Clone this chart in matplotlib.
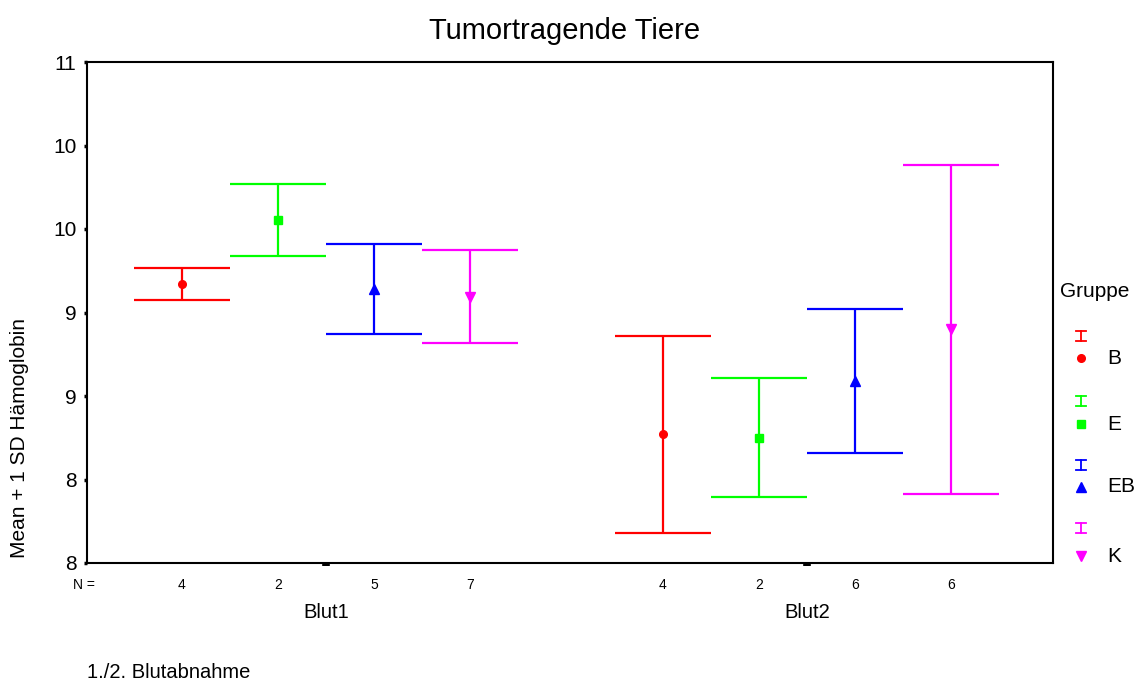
import matplotlib
matplotlib.use("Agg")
import matplotlib.pyplot as plt
import matplotlib.transforms as mtransforms

plt.rcParams['font.family'] = ['Liberation Sans', 'DejaVu Sans']

# ---- data ----
categories = ["Blut1", "Blut2"]
groups = ["B", "E", "EB", "K"]
colors = ["#FF0000", "#00FF00", "#0000FF", "#FF00FF"]
markers = ["o", "s", "^", "v"]
means_blut1 = [9.67, 10.055, 9.64, 9.595]
sd_blut1 = [0.095, 0.215, 0.27, 0.28]
means_blut2 = [8.77, 8.75, 9.09, 9.40]
sd_blut2 = [0.59, 0.355, 0.43, 0.985]
n_blut1 = [4, 2, 5, 7]
n_blut2 = [4, 2, 6, 6]
yticks = [8.0, 8.5, 9.0, 9.5, 10.0, 10.5, 11.0]
ytick_labels = ["8", "8", "9", "9", "10", "10", "11"]

W, H = 1143, 684
fig = plt.figure(figsize=(W / 100, H / 100), dpi=100)
ax = fig.add_axes([87 / W, 1 - 563 / H, (1053 - 87) / W, (563 - 62) / H])

def px(x, y):
    return x / W, 1 - y / H

offsets = [-0.3, -0.1, 0.1, 0.3]
means_all = [means_blut1, means_blut2]
sd_all = [sd_blut1, sd_blut2]
n_all = [n_blut1, n_blut2]

trans_n = mtransforms.blended_transform_factory(ax.transData, ax.transAxes)
for ci, cat in enumerate(categories):
    for gi, g in enumerate(groups):
        x = ci + offsets[gi]
        m = means_all[ci][gi]
        s = sd_all[ci][gi]
        ax.errorbar([x], [m], yerr=[s], color=colors[gi], capsize=34.5,
                    elinewidth=1.6, capthick=1.6, fmt='none', zorder=3)
        ax.plot([x], [m], marker=markers[gi], color=colors[gi],
                markersize=7 if markers[gi] in ("^", "v") else 5.5,
                linestyle='none', zorder=4)
        ax.text(x, -0.044, str(n_all[ci][gi]), transform=trans_n,
                ha='center', va='center', fontsize=10)
    ax.text(ci, -0.098, cat, transform=trans_n, ha='center', va='center',
            fontsize=14.5)

ax.set_xlim(-0.497, 1.511)
ax.set_ylim(8.0, 11.0)
ax.set_xticks([0, 1])
ax.set_xticklabels([])
ax.tick_params(axis='x', direction='out', length=2.5, width=5.5, color='black')
ax.set_yticks(yticks)
ax.set_yticklabels(ytick_labels, fontsize=15)
ax.tick_params(axis='y', direction='out', length=2.5, width=2.5, pad=5)
for sp in ax.spines.values():
    sp.set_linewidth(1.5)
    sp.set_color('black')

fig.text(*px(73, 585), "N =", ha='left', va='center', fontsize=10)
fig.text(*px(565, 31), "Tumortragende Tiere", ha='center', va='center', fontsize=21)
fig.text(*px(20, 438), "Mean + 1 SD Hämoglobin", rotation=90, ha='center',
         va='center', fontsize=15)
fig.text(*px(87, 673), "1./2. Blutabnahme", ha='left', va='center', fontsize=14.5)

# legend
fig.text(*px(1060, 292), "Gruppe", ha='left', va='center', fontsize=15)
ybar = [336, 401, 465, 528]
ymark = [358, 424, 487, 556]
for gi, g in enumerate(groups):
    xc = 1081
    y0 = ybar[gi]
    for (xa, ya, xb, yb) in [(xc - 5, y0 - 5, xc + 5, y0 - 5),
                             (xc - 5, y0 + 5, xc + 5, y0 + 5),
                             (xc, y0 - 5, xc, y0 + 5)]:
        fig.add_artist(plt.Line2D([xa / W, xb / W], [1 - ya / H, 1 - yb / H],
                                  color=colors[gi], linewidth=1.3))
    fx, fy = px(xc, ymark[gi])
    fig.add_artist(plt.Line2D([fx], [fy], marker=markers[gi], color=colors[gi],
                              markersize=7 if markers[gi] in ("^", "v") else 5.5,
                              linestyle='none'))
    fig.text(*px(1107, ymark[gi]), g, ha='left', va='center', fontsize=15)

fig.savefig("out.png", dpi=100, facecolor='white')
